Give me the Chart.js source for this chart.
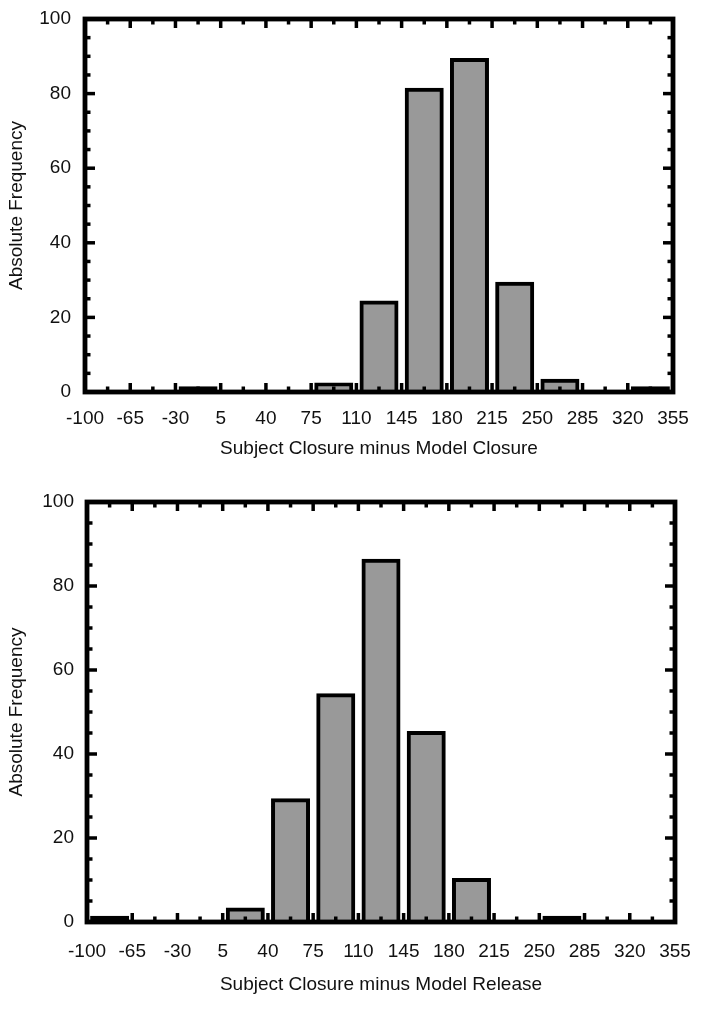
<!DOCTYPE html>
<html><head><meta charset="utf-8">
<script src="https://cdn.jsdelivr.net/npm/chart.js@4.4.1/dist/chart.umd.min.js"></script>
<style>
html,body{margin:0;padding:0;background:#fff;}
#c1{position:absolute;left:0;top:0;}
#c2{position:absolute;left:0;top:480px;}
</style></head><body>
<canvas id="c1" width="701" height="470"></canvas>
<canvas id="c2" width="701" height="547"></canvas>
<script>
// ---- data ----
const binStarts = [-100, -65, -30, 5, 40, 75, 110, 145, 180, 215, 250, 285, 320];
const binWidth = 35;
const closureCounts = [0, 0, 1, 0, 0, 2, 24, 81, 89, 29, 3, 0, 1];
const releaseCounts = [1, 0, 0, 3, 29, 54, 86, 45, 10, 0, 1, 0, 0];
const xTickValues = [-100, -65, -30, 5, 40, 75, 110, 145, 180, 215, 250, 285, 320, 355];
const yTickValues = [0, 20, 40, 60, 80, 100];
const xMinorStep = 17.5;
const yMinorStep = 5;
const xTitleTop = 'Subject Closure minus Model Closure';
const xTitleBottom = 'Subject Closure minus Model Release';
const yTitle = 'Absolute Frequency';

const FONT = '"Liberation Sans", Arial, Helvetica, sans-serif';
const TXT = '#111';

function isMajor(v, list){ return list.some(t => Math.abs(t - v) < 1e-6); }

const framePlugin = {
  id: 'frame',
  afterDatasetsDraw(chart){
    const {ctx, chartArea: a, scales: {x, y}} = chart;
    ctx.save();
    ctx.strokeStyle = '#000';
    ctx.lineWidth = 3.5;
    const seg = (x1, y1, x2, y2) => { ctx.beginPath(); ctx.moveTo(x1, y1); ctx.lineTo(x2, y2); ctx.stroke(); };
    for (let v = x.min; v <= x.max + 1e-6; v += xMinorStep) {
      const px = x.getPixelForValue(v);
      const len = isMajor(v, xTickValues) ? 9 : 5.5;
      seg(px, a.bottom, px, a.bottom - len);
      seg(px, a.top, px, a.top + len);
    }
    for (let v = y.min; v <= y.max + 1e-6; v += yMinorStep) {
      const py = y.getPixelForValue(v);
      const len = isMajor(v, yTickValues) ? 10 : 5.5;
      seg(a.left, py, a.left + len, py);
      seg(a.right, py, a.right - len, py);
    }
    ctx.lineWidth = 4.8;
    ctx.strokeRect(a.left, a.top, a.right - a.left, a.bottom - a.top);
    ctx.restore();
  }
};

function makeChart(id, counts, xTitle, L){
  return new Chart(document.getElementById(id), {
    type: 'bar',
    data: {
      datasets: [{
        data: binStarts.map((s, i) => ({x: s + binWidth / 2, y: counts[i]})),
        backgroundColor: c => (c.raw && c.raw.y <= 1) ? '#000' : '#999999',
        borderColor: '#000',
        borderWidth: 4,
        borderSkipped: 'start',
        inflateAmount: 2,
        barThickness: 'flex',
        barPercentage: 0.774,
        categoryPercentage: 1.0
      }]
    },
    options: {
      responsive: false,
      animation: false,
      devicePixelRatio: 1,
      layout: {padding: {top: L.padTop, right: L.padRight, left: 0, bottom: 0}},
      plugins: {legend: {display: false}, tooltip: {enabled: false}},
      scales: {
        x: {
          type: 'linear',
          offset: false,
          min: xTickValues[0],
          max: xTickValues[xTickValues.length - 1],
          afterBuildTicks: s => { s.ticks = xTickValues.map(v => ({value: v})); },
          afterFit: s => { s.height = L.xHeight; s.paddingLeft = 0; s.paddingRight = 0; },
          grid: {display: false, drawTicks: false, offset: false},
          border: {display: false},
          ticks: {autoSkip: false, maxRotation: 0, padding: L.xTickPad, color: TXT,
                  font: {family: FONT, size: 19}},
          title: {display: true, text: xTitle, color: TXT, font: {family: FONT, size: 19},
                  padding: {top: 0, bottom: L.xTitlePad}}
        },
        y: {
          min: 0, max: 100,
          afterBuildTicks: s => { s.ticks = yTickValues.map(v => ({value: v})); },
          afterFit: s => { s.width = L.yWidth; s.paddingTop = 0; s.paddingBottom = 0; },
          grid: {display: false, drawTicks: false},
          border: {display: false},
          ticks: {padding: L.yTickPad, color: TXT, font: {family: FONT, size: 19}},
          title: {display: true, text: yTitle, color: TXT, font: {family: FONT, size: 19},
                  padding: {top: 5.6, bottom: 0}}
        }
      }
    },
    plugins: [framePlugin]
  });
}

makeChart('c1', closureCounts, xTitleTop,
  {padTop: 19, padRight: 28, yWidth: 85, xHeight: 78, xTickPad: 15, xTitlePad: 10, yTickPad: 14});
makeChart('c2', releaseCounts, xTitleBottom,
  {padTop: 22, padRight: 26, yWidth: 87, xHeight: 105, xTickPad: 18.5, xTitlePad: 30.5, yTickPad: 13});
</script>
</body></html>
